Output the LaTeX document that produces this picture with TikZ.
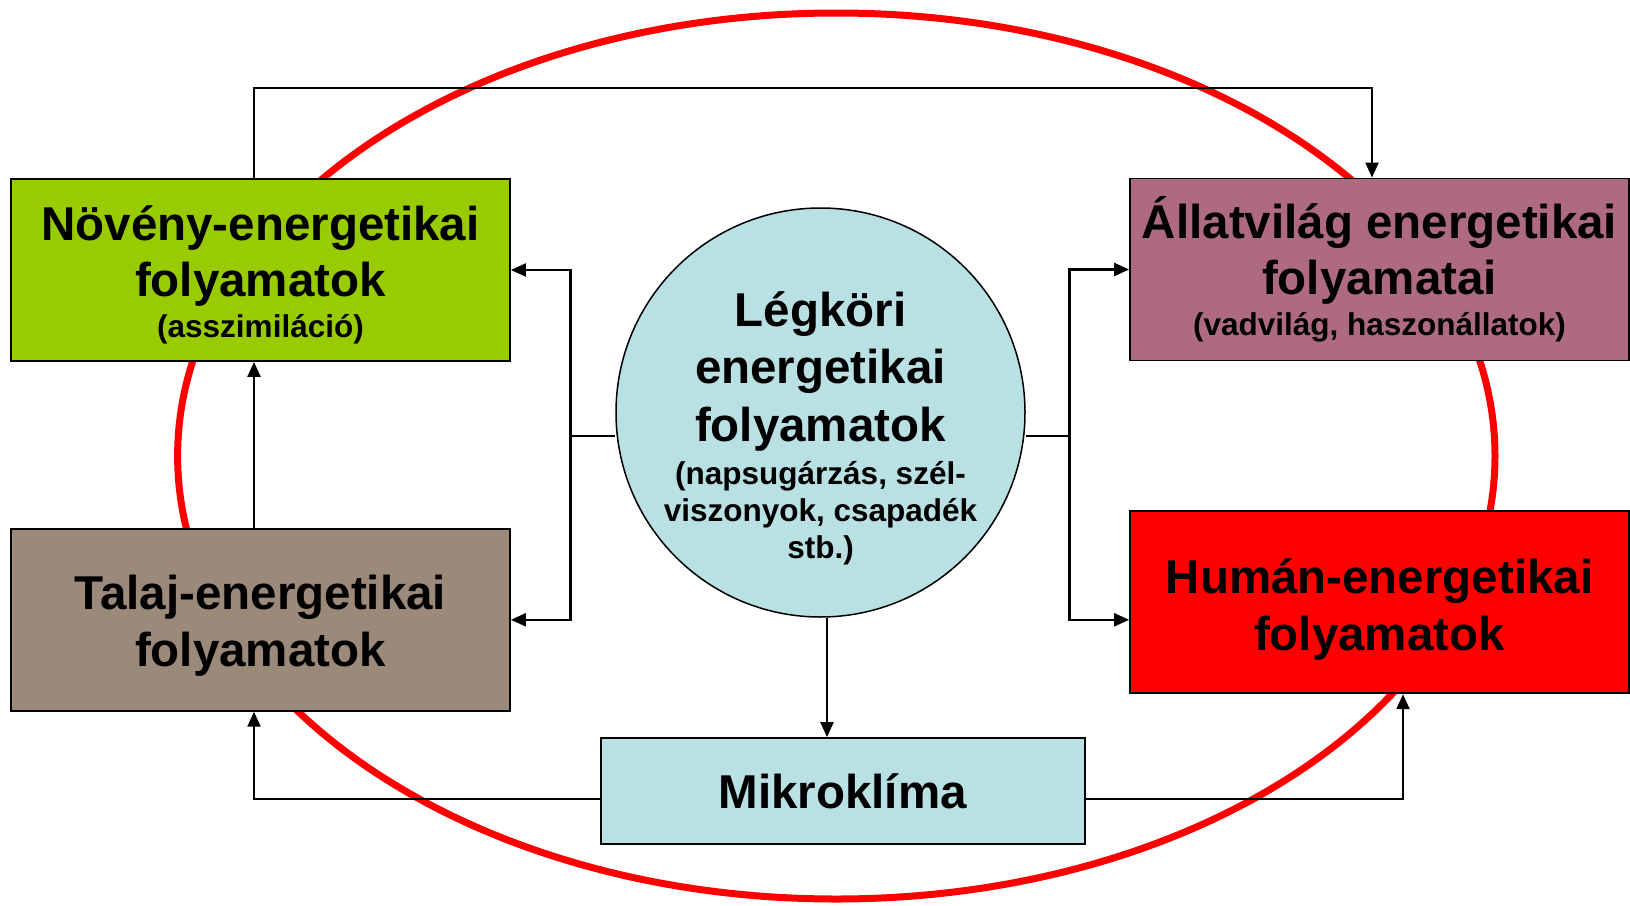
\documentclass[tikz,border=0pt]{standalone}
\usepackage{fontspec}
\setmainfont{Liberation Sans}
\usetikzlibrary{positioning,arrows.meta}

\definecolor{novenygreen}{RGB}{153,204,0}
\definecolor{talajbrown}{RGB}{155,137,122}
\definecolor{allatmauve}{RGB}{175,106,131}
\definecolor{legkorblue}{RGB}{185,224,227}
\newcommand{\subtxt}{\fontsize{31.5}{37}\selectfont}

\begin{document}
\begin{tikzpicture}[x=1pt, y=-1pt,
        box/.style={draw, line width=1.8pt, minimum width=499pt, minimum height=182pt,
            align=center, font=\bfseries\fontsize{47.5}{56.5}\selectfont},
        flow/.style={-{Triangle[length=15pt,width=13pt]}, line width=2.2pt},
        node distance=166pt]
        \useasboundingbox (0,0) rectangle (1630,905);
        \draw [red, line width=7pt] (836.3,456) ellipse [x radius=658.7pt, y radius=443pt];

        \node [circle, draw, line width=1.5pt, fill=legkorblue, minimum size=409pt, inner sep=0pt] (legkor) at (820.5,412.5) {};
        \node [align=center, font=\bfseries\fontsize{47.5}{57.5}\selectfont] (legkortxt) at (820.5,428)
            {Légköri\\energetikai\\folyamatok\\[-14.5pt]{\subtxt (napsugárzás, szél-}\\[-20.5pt]{\subtxt viszonyok, csapadék}\\[-20.5pt]{\subtxt stb.)}};
        \node [box, fill=novenygreen] (noveny) at (260.5,270) {\rule{0pt}{45pt}Növény-energetikai\\folyamatok\\[-15.5pt]{\subtxt (asszimiláció)}};
        \node [box, fill=talajbrown, below=of noveny] (talaj) {\rule{0pt}{46pt}Talaj-energetikai\\folyamatok};
        \node [box, fill=allatmauve] (allat) at (1379.5,269.5) {Állatvilág energetikai\\folyamatai\\[-15.5pt]{\subtxt (vadvilág, haszonállatok)}};
        \node [box, fill=red, below=149pt of allat] (human) {\rule{0pt}{49pt}Humán-energetikai\\folyamatok};
        \node [box, fill=legkorblue, minimum width=484pt, minimum height=106pt] (mikro) at (842.75,791) {Mikroklíma};

        \coordinate (toprail) at (820,88);
        \coordinate (lbus) at (570.5,436);
        \coordinate (rbus) at (1069.5,436);
        \coordinate (drop) at ([xshift=6.5pt]legkor.south);

        \draw [flow] ([xshift=-6.5pt]noveny.north) |- (toprail) -| ([xshift=-7.5pt]allat.north);
        \draw [flow] ([xshift=-6.5pt]talaj.north) -- ([xshift=-6.5pt]noveny.south);
        \draw [flow] (lbus -| legkor.west) -- (lbus) |- (noveny.east);
        \draw [flow] (lbus) |- (talaj.east);
        \draw [flow] (rbus -| legkor.east) -- (rbus) |- (allat.west);
        \draw [flow] (rbus) |- (talaj.east -| human.west);
        \draw [flow] (drop) -- (drop |- mikro.north);
        \draw [flow] ([yshift=-8pt]mikro.west) -| ([xshift=-6.5pt]talaj.south);
        \draw [flow] ([yshift=-8pt]mikro.east) -| ([xshift=23.5pt]human.south);
    \end{tikzpicture}
\end{document}
